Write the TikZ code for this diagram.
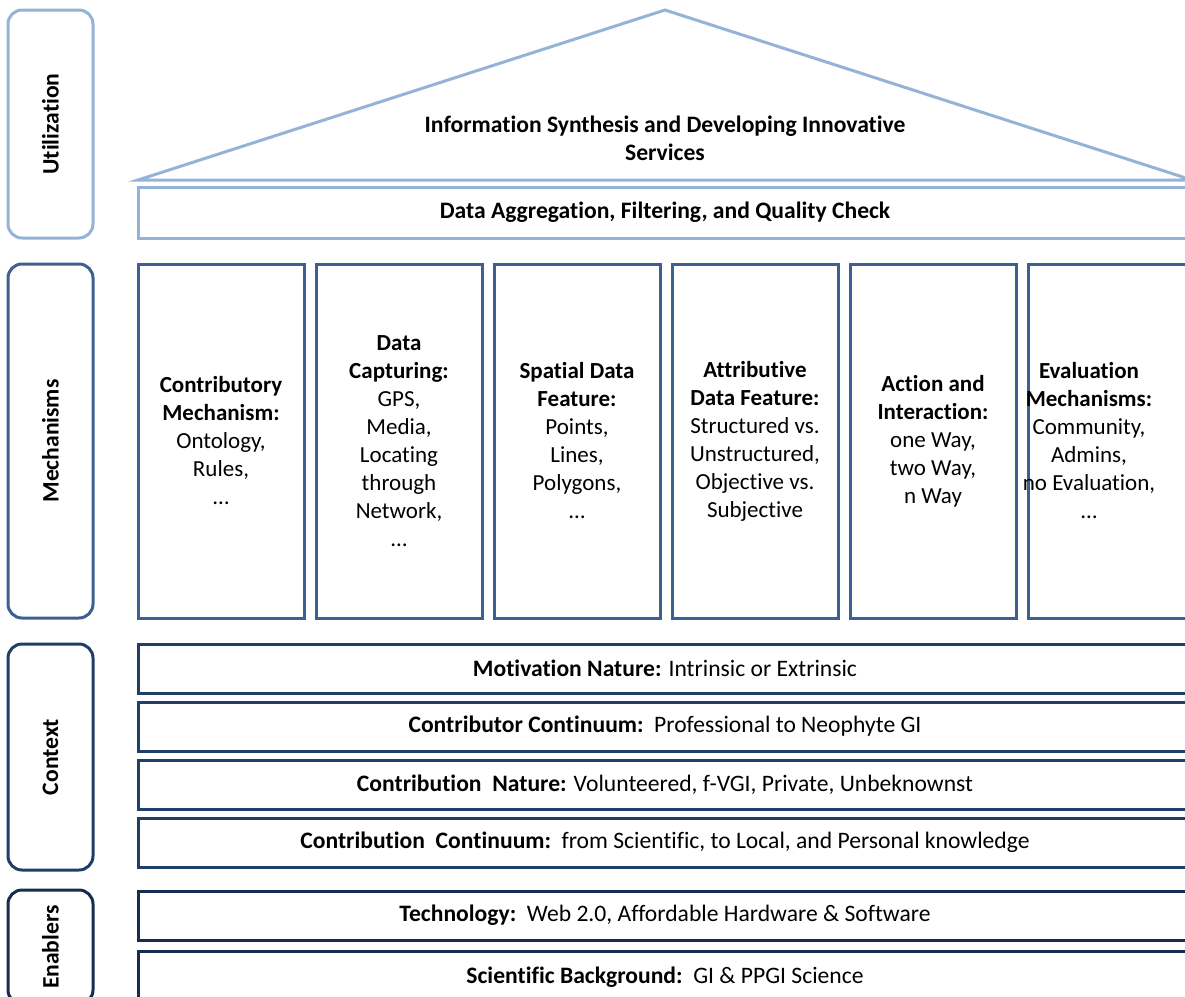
\documentclass[tikz,border=0pt]{standalone}
\usepackage{fontspec}
\setmainfont{Carlito}[Ligatures=NoCommon]
\usepackage{tikz}
\usetikzlibrary{positioning}
\definecolor{utlblue}{HTML}{95B3D7}
\definecolor{mechblue}{RGB}{60,96,145}
\definecolor{ctxblue}{RGB}{31,62,104}
\definecolor{enbblue}{RGB}{22,45,77}
\newcommand{\bigtext}{\fontsize{11.8}{14}\selectfont\bfseries}
\tikzstyle{sidebox} = [rectangle, draw, line width=1.5pt, rounded corners=7pt,
    rotate=90, minimum height=42.5pt, font=\bigtext]
\tikzstyle{mech} = [rectangle, draw=mechblue, line width=1.5pt,
    minimum width=83pt, minimum height=177pt, align=center]
\tikzstyle{bar} = [rectangle, draw, line width=1.5pt,
    minimum width=527pt, minimum height=24.5pt, font=\fontsize{11.8}{14}\selectfont]

\begin{document}
\begin{tikzpicture}[x=0.5pt,y=-0.5pt,font=\fontsize{11.5}{14}\selectfont]
        \useasboundingbox (0,0) rectangle (1185,997);
        \clip (0,0) rectangle (1185,997);
        % Side labels
        \node [sidebox, draw=utlblue, minimum width=114pt] (UTL) at (50.5,124) {Utilization};
        \node [sidebox, draw=mechblue, minimum width=177pt] (MEC) at (50.5,441) {Mechanisms};
        \node [sidebox, draw=ctxblue, minimum width=113pt] (CTX) at (50.5,757) {Context};
        \node [sidebox, draw=enbblue, minimum width=57pt] (ENB) at (50.5,947) {Enablers};
        % Roof
        \draw [utlblue, line width=1.5pt, line join=miter] (138,180) -- (665,10) -- (1192,180) -- cycle;
        \node [font=\bigtext, align=center] (Roof) at (665,138)
            {Information Synthesis and Developing Innovative\\Services};
        \node [bar, draw=utlblue, minimum height=25.5pt, font=\bigtext] (AGG) at (665,212.5)
            {Data Aggregation, Filtering, and Quality Check};
        % Mechanisms
        \node [mech] (Contrib) at (221,441) {\textbf{Contributory}\\\textbf{Mechanism:}\\Ontology,\\Rules,\\\dots};
        \node [mech] (Capture) [right =4.5pt of Contrib] {\textbf{Data}\\\textbf{Capturing:}\\GPS,\\Media,\\Locating\\through\\Network,\\\dots};
        \node [mech] (Spatial) [right =4.5pt of Capture] {\textbf{Spatial Data}\\\textbf{Feature:}\\Points,\\Lines,\\Polygons,\\\dots};
        \node [mech] (Attrib) [right =4.5pt of Spatial] {\textbf{Attributive}\\\textbf{Data Feature:}\\Structured vs.\\Unstructured,\\Objective vs.\\Subjective};
        \node [mech] (Action) [right =4.5pt of Attrib] {\textbf{Action and}\\\textbf{Interaction:}\\one Way,\\two Way,\\n Way};
        \node [mech, label={[align=center, xshift=-11pt]center:{\textbf{Evaluation}\\\textbf{Mechanisms:}\\Community,\\Admins,\\no Evaluation,\\\dots}}]
            (Eval) [right =4.5pt of Action] {};
        % Context
        \node [bar, draw=ctxblue] (Motiv) at (665,668.5) {\textbf{Motivation Nature:} Intrinsic or Extrinsic};
        \node [bar, draw=ctxblue] (Contor) [below =3pt of Motiv] {\textbf{Contributor Continuum:}\ \ Professional to Neophyte GI};
        \node [bar, draw=ctxblue] (Nature) [below =3pt of Contor] {\textbf{Contribution\ \ Nature:} Volunteered, f-VGI, Private, Unbeknownst};
        \node [bar, draw=ctxblue] (Contin) [below =3pt of Nature] {\textbf{Contribution\ \ Continuum:}\ \ from Scientific, to Local, and Personal knowledge};
        % Enablers
        \node [bar, draw=enbblue] (Tech) at (665,915.5) {\textbf{Technology:}\ \ Web 2.0, Affordable Hardware \& Software};
        \node [bar, draw=enbblue, minimum height=26pt] (Sci) [below =4pt of Tech] {\textbf{Scientific Background:}\ \ GI \& PPGI Science};
    \end{tikzpicture}
\end{document}
